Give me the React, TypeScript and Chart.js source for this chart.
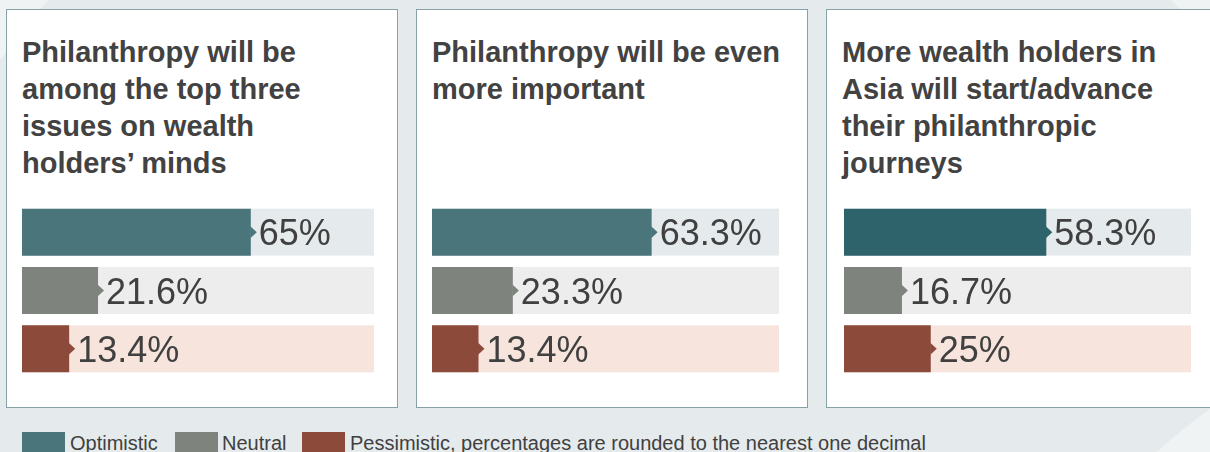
import React, { useEffect, useRef } from "react";
import { Chart, registerables } from "chart.js";

Chart.register(...registerables);

document.body.style.margin = "0";

// ---------------- data ----------------
const categories = ["Optimistic", "Neutral", "Pessimistic"];
const legendLabels = ["Optimistic", "Neutral", "Pessimistic, percentages are rounded to the nearest one decimal"];

const title1 = ["Philanthropy will be", "among the top three", "issues on wealth", "holders\u2019 minds"];
const title2 = ["Philanthropy will be even", "more important"];
const title3 = ["More wealth holders in", "Asia will start/advance", "their philanthropic", "journeys"];

const values1 = [65, 21.6, 13.4];
const values2 = [63.3, 23.3, 13.4];
const values3 = [58.3, 16.7, 25];

const scaleMin = 0;
const scaleMax = 100;

// ---------------- styles ----------------
const BAR_COLORS_A = ["#4a757a", "#7e837e", "#8c4a3b"];
const BAR_COLORS_B = ["#2f636b", "#7e837e", "#8c4a3b"];
const TRACK_COLORS = ["#e5ebed", "#ededed", "#f6e4dd"];
const LEGEND_COLORS = ["#4a757a", "#7e837e", "#8c4a3b"];
const FONT = '"Liberation Sans", Arial, Helvetica, sans-serif';
const TEXT = "#404040";

type PanelChartProps = {
  values: number[];
  colors: string[];
  left: number;
  width: number;
};

function PanelChart({ values, colors, left, width }: PanelChartProps) {
  const ref = useRef<HTMLCanvasElement | null>(null);
  useEffect(() => {
    if (!ref.current) return;
    const decor = {
      id: "barDecor",
      beforeDatasetsDraw(chart: any) {
        const meta = chart.getDatasetMeta(0);
        const xs = chart.scales.x;
        const ctx = chart.ctx;
        const x0 = xs.getPixelForValue(xs.min);
        const x1 = xs.getPixelForValue(xs.max);
        meta.data.forEach((bar: any, i: number) => {
          const p = bar.getProps(["y", "height"], true);
          ctx.save();
          ctx.fillStyle = TRACK_COLORS[i];
          ctx.fillRect(x0, p.y - p.height / 2, x1 - x0, p.height);
          ctx.restore();
        });
      },
      afterDatasetsDraw(chart: any) {
        const meta = chart.getDatasetMeta(0);
        const ctx = chart.ctx;
        const data = chart.data.datasets[0].data as number[];
        meta.data.forEach((bar: any, i: number) => {
          const p = bar.getProps(["x", "y"], true);
          ctx.save();
          ctx.fillStyle = colors[i];
          ctx.beginPath();
          ctx.moveTo(p.x - 0.5, p.y - 6);
          ctx.lineTo(p.x + 6, p.y);
          ctx.lineTo(p.x - 0.5, p.y + 6);
          ctx.closePath();
          ctx.fill();
          ctx.fillStyle = TEXT;
          ctx.font = "36px " + FONT;
          ctx.textAlign = "left";
          ctx.textBaseline = "alphabetic";
          ctx.fillText(data[i] + "%", p.x + 8, p.y + 13);
          ctx.restore();
        });
      },
    };
    const chart = new Chart(ref.current, {
      type: "bar",
      data: {
        labels: categories,
        datasets: [
          {
            label: "share",
            data: values,
            backgroundColor: colors,
            borderWidth: 0,
            barPercentage: 0.805,
            categoryPercentage: 1,
          },
        ],
      },
      options: {
        indexAxis: "y",
        responsive: false,
        animation: false,
        events: [],
        layout: { padding: 0 },
        scales: {
          x: { min: scaleMin, max: scaleMax, display: false },
          y: { display: false },
        },
        plugins: {
          legend: { display: false },
          tooltip: { enabled: false },
        },
      },
      plugins: [decor],
    });
    return () => chart.destroy();
  }, [values, colors]);
  return (
    <canvas
      ref={ref}
      width={width}
      height={175}
      style={{ position: "absolute", left, top: 203, width, height: 175 }}
    />
  );
}

function Panel({ left, width, lines }: { left: number; width: number; lines: string[] }) {
  return (
    <div
      style={{
        position: "absolute",
        left,
        top: 9,
        width,
        height: 399,
        boxSizing: "border-box",
        border: "1px solid #87a2a6",
        background: "#ffffff",
      }}
    >
      <div
        style={{
          position: "absolute",
          left: 15,
          top: 24,
          font: "bold 29px " + FONT,
          lineHeight: "37px",
          color: "#424242",
          whiteSpace: "nowrap",
        }}
      >
        {lines.map((l, i) => (
          <div key={i}>{l}</div>
        ))}
      </div>
    </div>
  );
}

export default function App() {
  const legendPos = [
    { sq: 22, tx: 70 },
    { sq: 175, tx: 222 },
    { sq: 302, tx: 350 },
  ];
  return (
    <div
      style={{
        position: "relative",
        width: 1210,
        height: 452,
        overflow: "hidden",
        background: "#eff3f4",
        fontFamily: FONT,
      }}
    >
      <div
        style={{
          position: "absolute",
          left: 610 - 752,
          top: 500 - 752,
          width: 1504,
          height: 1504,
          borderRadius: "50%",
          background: "#e5ebed",
        }}
      />
      <div
        style={{
          position: "absolute",
          left: 1500 - 503,
          top: 820 - 503,
          width: 1006,
          height: 1006,
          borderRadius: "50%",
          background: "#eff3f4",
        }}
      />
      <Panel left={6} width={392} lines={title1} />
      <Panel left={416} width={392} lines={title2} />
      <Panel left={826} width={400} lines={title3} />
      <PanelChart values={values1} colors={BAR_COLORS_A} left={22} width={352} />
      <PanelChart values={values2} colors={BAR_COLORS_A} left={432} width={347} />
      <PanelChart values={values3} colors={BAR_COLORS_B} left={844} width={347} />
      {legendLabels.map((lab, i) => (
        <React.Fragment key={i}>
          <div
            style={{
              position: "absolute",
              left: legendPos[i].sq,
              top: 432,
              width: 43,
              height: 22,
              background: LEGEND_COLORS[i],
            }}
          />
          <div
            style={{
              position: "absolute",
              left: legendPos[i].tx,
              top: 433,
              font: "20px " + FONT,
              lineHeight: "20px",
              color: TEXT,
              whiteSpace: "nowrap",
            }}
          >
            {lab}
          </div>
        </React.Fragment>
      ))}
    </div>
  );
}
